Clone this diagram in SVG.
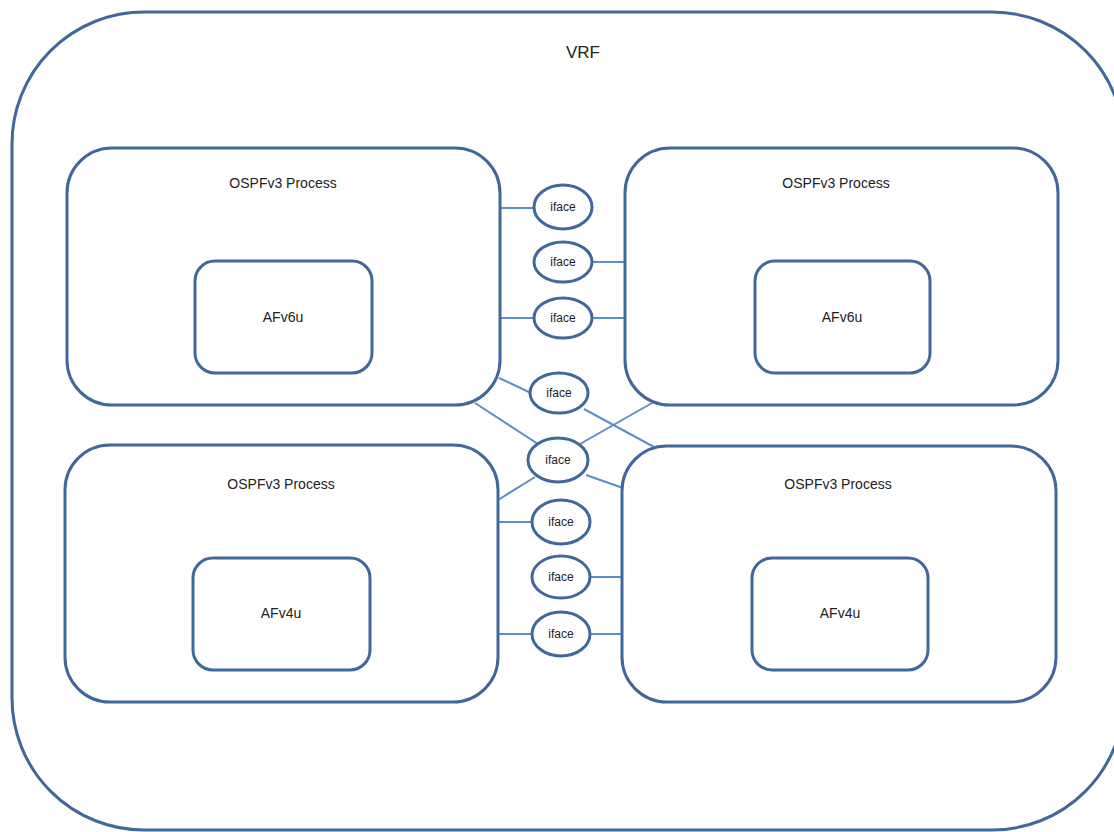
<svg xmlns="http://www.w3.org/2000/svg" width="1114" height="832" viewBox="0 0 1114 832">
<style>
.box{fill:#fff;stroke:#41689a;stroke-width:3}
.inner{fill:#fff;stroke:#41689a;stroke-width:3}
.ifc{fill:#fff;stroke:#41689a;stroke-width:3}
.ln{stroke:#5b8fcc;stroke-width:2;fill:none}
text{font-family:"Liberation Sans",Arial,sans-serif;fill:#222;text-anchor:middle}
.t{font-size:14px}
.i{font-size:12px}
.v{font-size:17px}
</style>
<rect width="1114" height="832" fill="#fff"/>
<g id="vrf">
<rect x="12" y="12" width="1112" height="818" rx="132" class="box"/>
<text x="583" y="58" class="v">VRF</text>
</g>
<g id="connectors">
<line x1="500" y1="208" x2="534" y2="208" class="ln"/>
<line x1="592" y1="262" x2="625" y2="262" class="ln"/>
<line x1="500" y1="318" x2="534" y2="318" class="ln"/>
<line x1="592" y1="318" x2="625" y2="318" class="ln"/>
<line x1="499" y1="378" x2="531" y2="393" class="ln"/>
<line x1="584" y1="409" x2="654" y2="447" class="ln"/>
<line x1="475" y1="403" x2="538" y2="444" class="ln"/>
<line x1="580" y1="444" x2="652" y2="403" class="ln"/>
<line x1="535" y1="477" x2="498" y2="500" class="ln"/>
<line x1="586" y1="475" x2="623" y2="488" class="ln"/>
<line x1="498" y1="522" x2="532" y2="522" class="ln"/>
<line x1="590" y1="577" x2="622" y2="577" class="ln"/>
<line x1="498" y1="634" x2="532" y2="634" class="ln"/>
<line x1="590" y1="634" x2="622" y2="634" class="ln"/>
</g>
<g id="proc-tl">
<rect x="67" y="148" width="433" height="257" rx="45" class="box"/>
<text x="283" y="188" class="t">OSPFv3 Process</text>
</g>
<g id="af-tl">
<rect x="195" y="261" width="177" height="112" rx="20" class="inner"/>
<text x="283" y="322" class="t">AFv6u</text>
</g>
<g id="proc-tr">
<rect x="625" y="148" width="433" height="257" rx="45" class="box"/>
<text x="836" y="188" class="t">OSPFv3 Process</text>
</g>
<g id="af-tr">
<rect x="755" y="261" width="175" height="112" rx="20" class="inner"/>
<text x="842" y="322" class="t">AFv6u</text>
</g>
<g id="proc-bl">
<rect x="65" y="445" width="433" height="257" rx="45" class="box"/>
<text x="281" y="489" class="t">OSPFv3 Process</text>
</g>
<g id="af-bl">
<rect x="193" y="558" width="177" height="112" rx="20" class="inner"/>
<text x="281" y="618" class="t">AFv4u</text>
</g>
<g id="proc-br">
<rect x="622" y="446" width="434" height="256" rx="45" class="box"/>
<text x="838" y="489" class="t">OSPFv3 Process</text>
</g>
<g id="af-br">
<rect x="752" y="558" width="176" height="112" rx="20" class="inner"/>
<text x="840" y="618" class="t">AFv4u</text>
</g>
<g id="if1"><ellipse cx="563" cy="207" rx="29" ry="22" class="ifc"/><text x="563" y="211" class="i">iface</text></g>
<g id="if2"><ellipse cx="563" cy="262" rx="29" ry="20" class="ifc"/><text x="563" y="266" class="i">iface</text></g>
<g id="if3"><ellipse cx="563" cy="318" rx="29" ry="20" class="ifc"/><text x="563" y="322" class="i">iface</text></g>
<g id="if4"><ellipse cx="559" cy="393" rx="29" ry="20" class="ifc"/><text x="559" y="397" class="i">iface</text></g>
<g id="if5"><ellipse cx="558" cy="460" rx="30" ry="22" class="ifc"/><text x="558" y="464" class="i">iface</text></g>
<g id="if6"><ellipse cx="561" cy="522" rx="29" ry="22" class="ifc"/><text x="561" y="526" class="i">iface</text></g>
<g id="if7"><ellipse cx="561" cy="577" rx="29" ry="21" class="ifc"/><text x="561" y="581" class="i">iface</text></g>
<g id="if8"><ellipse cx="561" cy="634" rx="29" ry="22" class="ifc"/><text x="561" y="638" class="i">iface</text></g>
</svg>
